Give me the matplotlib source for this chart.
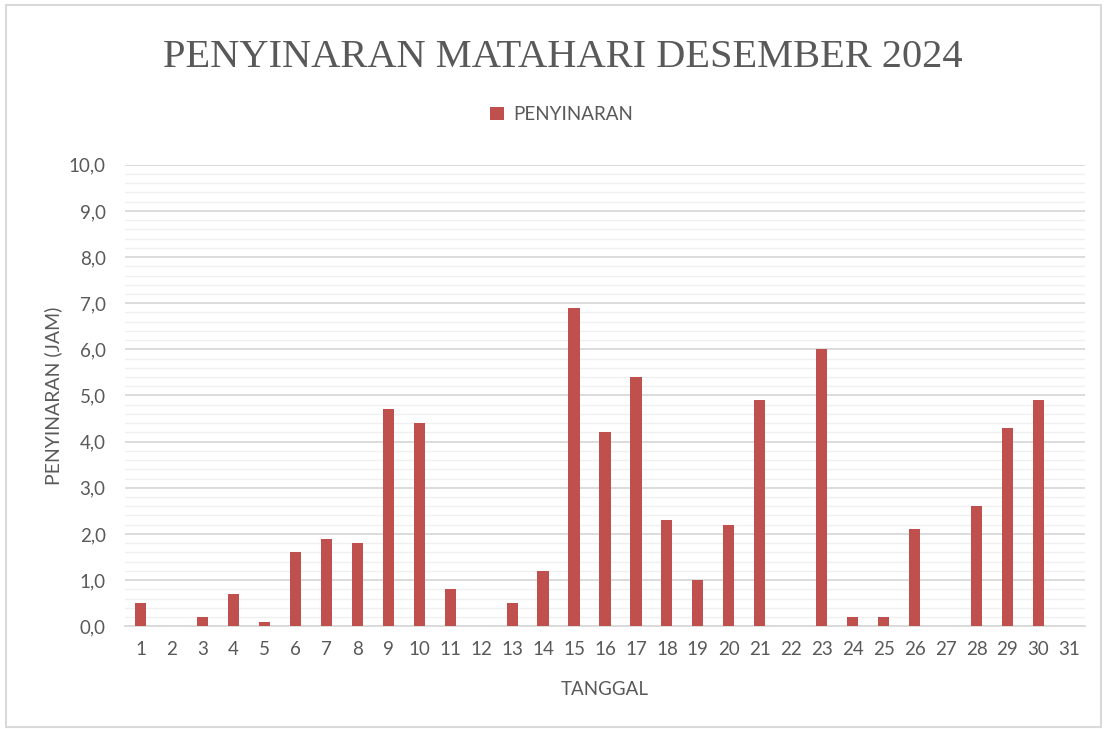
import matplotlib.pyplot as plt
from matplotlib.patches import Rectangle
from matplotlib.ticker import MultipleLocator, FuncFormatter

# daily sunshine duration, December 2024
tanggal = list(range(1, 32))
penyinaran = [0.5, 0.0, 0.2, 0.7, 0.1, 1.6, 1.9, 1.8, 4.7, 4.4,
              0.8, 0.0, 0.5, 1.2, 6.9, 4.2, 5.4, 2.3, 1.0, 2.2,
              4.9, 0.0, 6.0, 0.2, 0.2, 2.1, 0.0, 2.6, 4.3, 4.9, 0.0]

text_col = "#595959"
bar_col = "#C0504D"

fig = plt.figure(figsize=(11.07, 7.29), dpi=100)
ax = fig.add_axes([0.113, 0.141, 0.867, 0.633])

ax.bar(tanggal, penyinaran, width=0.36, color=bar_col, label="PENYINARAN", zorder=3)

ax.set_xlim(0.5, 31.5)
ax.set_ylim(0, 10)
ax.yaxis.set_major_locator(MultipleLocator(1))
ax.yaxis.set_minor_locator(MultipleLocator(0.2))
ax.yaxis.set_major_formatter(FuncFormatter(lambda v, p: f"{v:.1f}".replace(".", ",")))
ax.set_xticks(tanggal)

ax.grid(axis="y", which="major", color="#D9D9D9", linewidth=1.3, zorder=0)
ax.grid(axis="y", which="minor", color="#F0F0F0", linewidth=1.0, zorder=0)
for s in ["top", "right", "left"]:
    ax.spines[s].set_visible(False)
ax.spines["bottom"].set_color("#D9D9D9")
ax.spines["bottom"].set_linewidth(1.3)

ax.tick_params(axis="both", which="both", length=0, labelsize=13.5, labelcolor=text_col)
ax.tick_params(axis="x", pad=11)
ax.tick_params(axis="y", pad=14)
for lab in ax.get_xticklabels() + ax.get_yticklabels():
    lab.set_family("Lato")

ax.set_xlabel("TANGGAL", fontsize=13.5, color=text_col, family="Lato", labelpad=16)
ax.set_ylabel("PENYINARAN (JAM)", fontsize=14, color=text_col, family="Lato", labelpad=5)

fig.text(0.508, 0.921, "PENYINARAN MATAHARI DESEMBER 2024", ha="center", va="center",
         fontsize=29.2, color=text_col, family="Liberation Serif")

leg = fig.legend(loc="center", bbox_to_anchor=(0.507, 0.843), frameon=False,
                 prop={"family": "Lato", "size": 13.5}, handlelength=0.75, handleheight=0.75,
                 handletextpad=0.5)
for t in leg.get_texts():
    t.set_color(text_col)

# chart border
fig.patches.append(Rectangle((0.005, 0.003), 0.99, 0.99, transform=fig.transFigure,
                             fill=False, edgecolor="#D9D9D9", linewidth=1.5))

fig.savefig("out.png", dpi=100)
